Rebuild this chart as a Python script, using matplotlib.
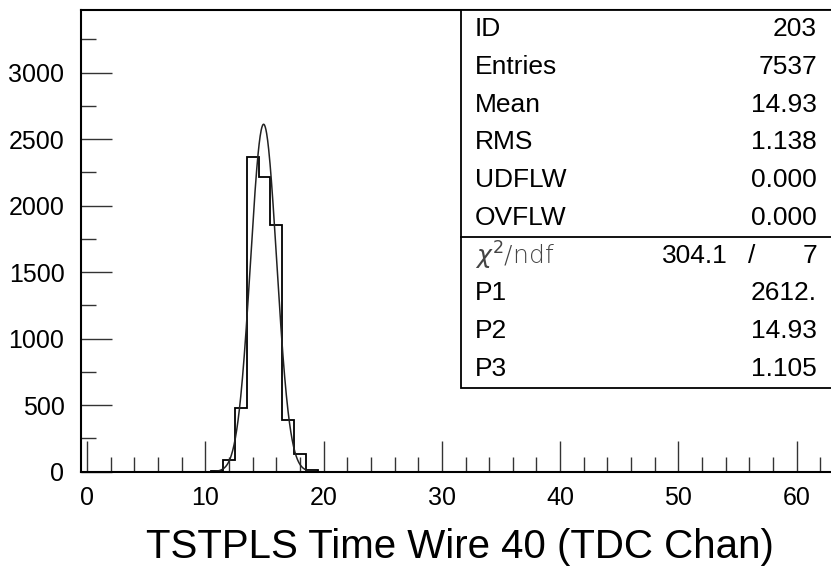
import numpy as np
import matplotlib
matplotlib.use("Agg")
import matplotlib.pyplot as plt
from matplotlib.patches import Rectangle

plt.rcParams['font.family'] = ['Liberation Sans', 'DejaVu Sans']

# ---- data ----
bin_edges = [10.5, 11.5, 12.5, 13.5, 14.5, 15.5, 16.5, 17.5, 18.5, 19.5]
bin_counts = [5, 88, 477, 2364, 2216, 1855, 389, 133, 10]
fit_p1, fit_p2, fit_p3 = 2612.0, 14.93, 1.105
fit_range = (10.9, 19.5)
x_major = [0, 10, 20, 30, 40, 50, 60]
y_major = [0, 500, 1000, 1500, 2000, 2500, 3000]
stats_labels = ["ID", "Entries", "Mean", "RMS", "UDFLW", "OVFLW"]
stats_values = ["203", "7537", "14.93", "1.138", "0.000", "0.000"]
chi2_value, ndf_value = "304.1", "7"
param_labels = ["P1", "P2", "P3"]
param_values = ["2612.", "14.93", "1.105"]
xlabel = "TSTPLS Time Wire 40 (TDC Chan)"

W, H = 831, 571
fig = plt.figure(figsize=(W / 100, H / 100), dpi=100)
ax_l, ax_b = 81.1, 571 - 471.7
ax_w, ax_h = 757.0, 461.7
ax = fig.add_axes([ax_l / W, ax_b / H, ax_w / W, ax_h / H])
ax.set_xlim(-0.5, 63.5)
ax.set_ylim(0, 3471)

ax.stairs(bin_counts, bin_edges, color='black', lw=1.3)
xf = np.linspace(fit_range[0], fit_range[1], 300)
yf = fit_p1 * np.exp(-0.5 * ((xf - fit_p2) / fit_p3) ** 2)
ax.plot(xf, yf, color='#222222', lw=1.1)

for s in ['top', 'left', 'bottom', 'right']:
    ax.spines[s].set_linewidth(1.5)
    ax.spines[s].set_color('black')

ax.set_xticks(x_major)
ax.set_xticks(np.arange(2, 63, 2), minor=True)
ax.set_yticks(y_major)
ax.set_yticks(np.arange(250, 3470, 500), minor=True)
ax.tick_params(which='both', direction='in', top=False, right=False,
               labelsize=18, colors='#333333', labelcolor='black', width=1.0)
ax.tick_params(which='major', length=22, pad=12)
ax.tick_params(axis='x', which='major', pad=10)
ax.tick_params(which='minor', length=11)

ax.set_xlabel(xlabel, fontsize=29, labelpad=13)

# stats box
nrows = 10
rh = 37.8 / ax_h
box_bottom = 1 - nrows * rh
bx = (460.7 - ax_l) / ax_w
ax.add_patch(Rectangle((bx, box_bottom), 1.2 - bx, 1 - box_bottom, transform=ax.transAxes,
                       facecolor='white', edgecolor='black', lw=1.3, zorder=5, clip_on=False))
sep_y = 1 - 6 * rh
ax.plot([bx, 1.2], [sep_y, sep_y], transform=ax.transAxes, color='black', lw=1.3,
        zorder=6, clip_on=False)

lx = (475 - ax_l) / ax_w
rx = (817 - ax_l) / ax_w
fs = 19
for i, (lab, val) in enumerate(zip(stats_labels, stats_values)):
    yc = 1 - (i + 0.5) * rh
    ax.text(lx, yc, lab, transform=ax.transAxes, fontsize=fs, va='center', ha='left', zorder=7)
    ax.text(rx, yc, val, transform=ax.transAxes, fontsize=fs, va='center', ha='right', zorder=7)

yc = 1 - 6.5 * rh
ax.text(lx, yc, r"$\chi^2$/ndf", transform=ax.transAxes, fontsize=fs - 1, va='center', ha='left',
        color='#444444', family=['DejaVu Sans'], fontweight='light', zorder=7)
ax.text((728 - ax_l) / ax_w, yc, chi2_value, transform=ax.transAxes, fontsize=fs,
        va='center', ha='right', zorder=7)
ax.text((752 - ax_l) / ax_w, yc, "/", transform=ax.transAxes, fontsize=fs,
        va='center', ha='center', zorder=7)
ax.text(rx, yc, ndf_value, transform=ax.transAxes, fontsize=fs, va='center', ha='right', zorder=7)

for j, (lab, val) in enumerate(zip(param_labels, param_values)):
    yc = 1 - (7 + j + 0.5) * rh
    ax.text(lx, yc, lab, transform=ax.transAxes, fontsize=fs, va='center', ha='left', zorder=7)
    ax.text(rx, yc, val, transform=ax.transAxes, fontsize=fs, va='center', ha='right', zorder=7)

fig.savefig("out.png", dpi=100)
